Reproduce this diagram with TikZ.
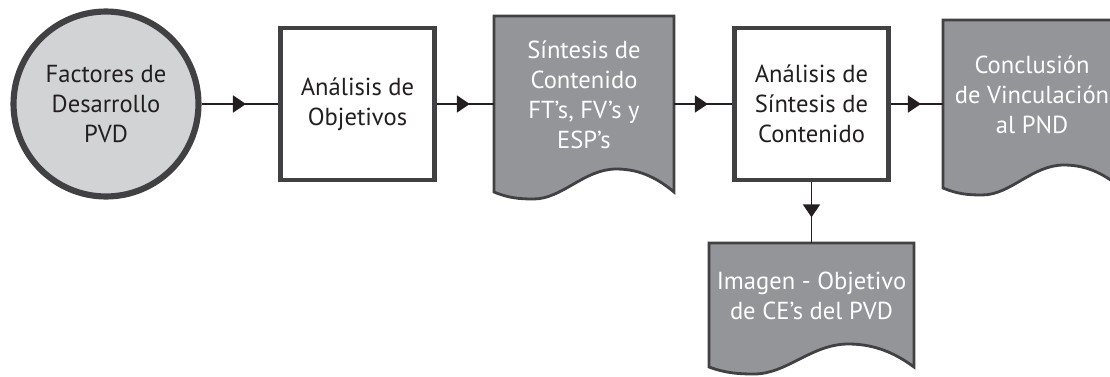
\documentclass[tikz,border=0pt]{standalone}
\usepackage{fontspec}
\setmainfont{PT Sans}
\usetikzlibrary{positioning,arrows.meta,decorations.markings}
\definecolor{lineColor}{HTML}{414042}
\definecolor{circleFill}{HTML}{D1D3D4}
\definecolor{docFill}{HTML}{939598}
\definecolor{textColor}{HTML}{231F20}
\tikzstyle{diagram} = [x = .02cm, y = -.02cm]
\tikzstyle{nodeText} = [font=\fontsize{14}{17}\selectfont, align=center, text=textColor, inner sep=0pt]
\tikzstyle{circleStyle} = [nodeText, circle, draw=lineColor, line width=3.5pt, fill=circleFill, minimum size=3.7cm]
\tikzstyle{boxStyle} = [nodeText, rectangle, draw=lineColor, line width=2.7pt, fill=white, minimum width=3.08cm, minimum height=3.04cm]
\tikzstyle{docStyle} = [draw=lineColor, line width=1.6pt, fill=docFill]
\tikzstyle{docText} = [nodeText, text=white, text depth=.38cm]
\tikzstyle{flowLine} = [draw=textColor, line width=1.1pt, postaction={decorate}, decoration={markings, mark=at position .58 with {\arrow{Triangle[length=.26cm, width=.34cm]}}}]
\newcommand{\docShape}[6]{
  \filldraw [docStyle] (#2, #3) -- ({#2 + #4}, #3) -- ({#2 + #4}, {#3 + #5})
    .. controls ({#2 + .92 * #4}, {#3 + #5 - 12}) and ({#2 + .82 * #4}, {#3 + #5 - 23}) .. ({#2 + .68 * #4}, {#3 + #5 - 23})
    .. controls ({#2 + .5 * #4}, {#3 + #5 - 23}) and ({#2 + .38 * #4}, {#3 + #5 + 7}) .. ({#2 + .22 * #4}, {#3 + #5 + 7})
    .. controls ({#2 + .14 * #4}, {#3 + #5 + 7}) and ({#2 + .08 * #4}, {#3 + #5 + 6}) .. (#2, {#3 + #5}) -- cycle;
  \node [docText, minimum width = #4 * .02cm, minimum height = #5 * .02cm] (#1) at ({#2 + #4 / 2}, {#3 + #5 / 2}) {#6};
}

\begin{document}
\begin{tikzpicture}[diagram]
        \useasboundingbox (0, 0) rectangle (1110, 376);

        \node [circleStyle] (factores) at (106, 104) {Factores de\\Desarrollo\\PVD};
        \node [boxStyle] (objetivos) at (357.5, 104) {Análisis de\\Objetivos};
        \docShape{sintesis}{494}{16}{180}{176}{Síntesis de\\Contenido\\FT’s, FV’s y\\ESP’s}
        \node [boxStyle] (analisis) at (811.5, 104) {Análisis de\\Síntesis de\\Contenido};
        \docShape{conclusion}{943}{20}{178}{168}{Conclusión\\de Vinculación\\al PND}
        \docShape{imagen}{709}{243}{205}{124}{Imagen - Objetivo\\de CE’s del PVD}

        \draw [flowLine] (factores) -- (objetivos);
        \draw [flowLine] (objetivos) -- (sintesis);
        \draw [flowLine] (sintesis) -- (analisis);
        \draw [flowLine] (analisis) -- (conclusion);
        \draw [flowLine] (analisis) -- (imagen);
      \end{tikzpicture}
\end{document}
